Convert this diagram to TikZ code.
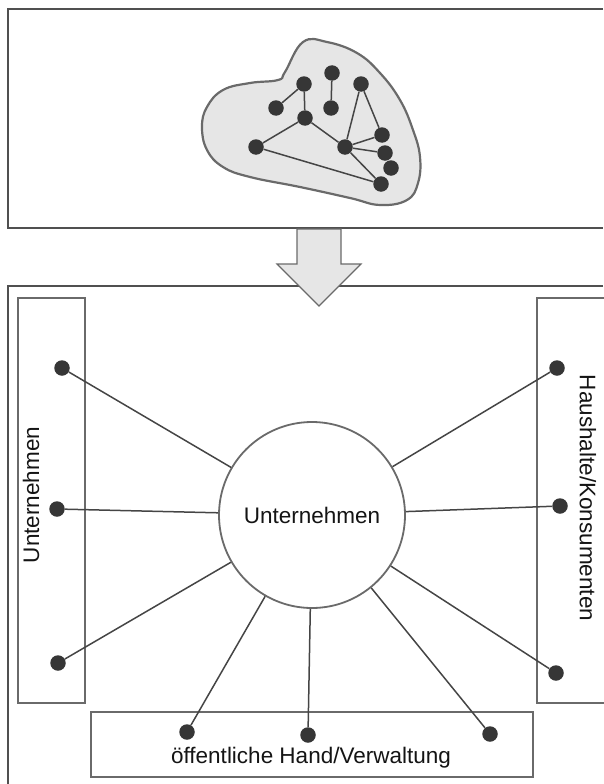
\documentclass[tikz,border=0pt]{standalone}
\usepackage{fontspec}
\setmainfont{Liberation Sans}
\usetikzlibrary{calc}
\definecolor{framegray}{HTML}{505050}
\definecolor{linegray}{HTML}{454545}
\definecolor{dotgray}{HTML}{363636}
\definecolor{blobfill}{HTML}{E6E6E6}
\definecolor{blobline}{HTML}{6A6A6A}
\newcommand{\punkt}[3] % name, x in px, y in px
{
	\node[punkt] (#1) at (#2,#3) {};
}

\begin{document}
\begin{tikzpicture}[x=1pt, y=-1pt,
	punkt/.style={circle, fill=dotgray, inner sep=0pt, minimum size=15.5pt},
	kante/.style={draw=linegray, line width=1.5pt},
	speiche/.style={draw=linegray, line width=1.5pt},
	rahmen/.style={draw=framegray, line width=2pt},
	feld/.style={draw=framegray!85, line width=1.8pt},
	schrift/.style={font=\fontsize{22.5}{26}\selectfont, text=black!92, inner sep=0pt}]
	% page 603 x 784 px
	\useasboundingbox (0,0) rectangle (603,784);
	
	% upper frame: the network as a cloud
	\draw[rahmen] (603,9) -- (8,9) -- (8,228) -- (603,228);
	\draw[blobline, fill=blobfill, line width=2.2pt] plot[smooth cycle, tension=0.7] coordinates {
		(303,42) (285,72) (278,80) (250,83) (223,90) (207,107) (202,127)
		(207,150) (223,167) (250,177) (300,187) (350,198) (380,205)
		(407,200) (418,183) (420,157) (413,130) (400,100) (380,73)
		(357,53) (327,42)};
	\punkt{a}{332}{73}
	\punkt{b}{304}{84}
	\punkt{c}{361}{84}
	\punkt{d}{276}{108}
	\punkt{e}{331}{108}
	\punkt{f}{305}{118}
	\punkt{g}{256}{147}
	\punkt{h}{345}{147}
	\punkt{i}{382}{135}
	\punkt{j}{385}{153}
	\punkt{k}{391}{168}
	\punkt{l}{381}{184}
	\foreach \u/\v in {a/e, b/d, b/f, f/g, f/h, g/l, h/c, c/i, h/i, h/j, h/l}
		\draw[kante] (\u) -- (\v);
	
	% lower frame: the enterprise and its surroundings
	\draw[rahmen] (603,286) -- (8,286) -- (8,786);
	
	% arrow between the frames
	\draw[blobline, fill=blobfill, line width=1.2pt] (297,229) -- (341,229) -- (341,264) -- (361,264)
		-- (319,306) -- (277,264) -- (297,264) -- cycle;
	
	\draw[feld] (18,298) rectangle (85,703);
	\draw[feld] (605,298) -- (537,298) -- (537,703) -- (605,703);
	\draw[feld] (91,712) rectangle (533,777);
	
	\node[schrift, rotate=90] (unt) at (31,495) {Unternehmen};
	\node[schrift, rotate=-90] (hk) at (588,498) {Haushalte/Konsumenten};
	\node[schrift] (oeh) at (311,758) {öffentliche Hand/Verwaltung};
	
	\node[circle, draw=framegray!85, line width=1.8pt, fill=white, minimum size=186pt,
		inner sep=0pt, font=\fontsize{22.5}{26}\selectfont, text=black!92] (hub) at (312,515) {Unternehmen};
	
	\punkt{l1}{62}{368}
	\punkt{l2}{57}{509}
	\punkt{l3}{58}{663}
	\punkt{r1}{557}{368}
	\punkt{r2}{560}{506}
	\punkt{r3}{556}{673}
	\punkt{b1}{187}{732}
	\punkt{b2}{308}{735}
	\punkt{b3}{490}{734}
	\foreach \p in {l1, l2, l3, r1, r2, r3, b1, b2, b3}
		\draw[speiche] (\p) -- (hub);
	
\end{tikzpicture}
\end{document}
